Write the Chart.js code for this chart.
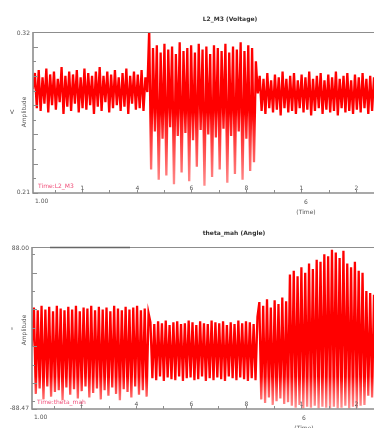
<!DOCTYPE html>
<html>
<head>
<meta charset="utf-8">
<script src="https://cdn.jsdelivr.net/npm/chart.js@4.4.1/dist/chart.umd.min.js"></script>
<style>
  html, body { margin: 0; padding: 0; background: #fff; }
  #wrap { position: relative; width: 374px; height: 428px; overflow: hidden; }
  .box { position: absolute; left: 0; width: 374px; }
  #box1 { top: 0; height: 222px; }
  #box2 { top: 222px; height: 206px; }
  canvas { filter: blur(0.45px); }
</style>
</head>
<body>
<div id="wrap">
  <div class="box" id="box1"><canvas id="voltChart"></canvas></div>
  <div class="box" id="box2"><canvas id="angleChart"></canvas></div>
</div>
<script>
// L2_M3 voltage in three stretches (before, during, after the burst)
const voltBefore = [0.281,0.292,0.268,0.294,0.266,0.289,0.271,0.295,0.265,0.291,
  0.270,0.293,0.267,0.288,0.272,0.296,0.264,0.290,0.269,0.293,
  0.266,0.291,0.271,0.294,0.265,0.289,0.268,0.295,0.267,0.292,
  0.270,0.290,0.264,0.293,0.269,0.296,0.266,0.290,0.272,0.293,
  0.265,0.291,0.268,0.294,0.270,0.289,0.266,0.292,0.269,0.295,
  0.264,0.290,0.271,0.293,0.267,0.291,0.268,0.294,0.266,0.289,0.279];
const voltBurst = [0.322,0.226,0.309,0.252,0.311,0.219,0.306,0.247,0.312,0.222,
  0.308,0.255,0.310,0.216,0.305,0.249,0.313,0.224,0.307,0.251,
  0.309,0.218,0.311,0.246,0.306,0.228,0.312,0.253,0.308,0.215,
  0.310,0.250,0.305,0.221,0.311,0.248,0.309,0.226,0.307,0.254,
  0.312,0.217,0.306,0.249,0.310,0.223,0.308,0.252,0.313,0.219,
  0.307,0.247,0.311,0.225,0.309,0.231,0.300];
const voltAfter = [0.278,0.290,0.266,0.288,0.264,0.292,0.268,0.287,0.265,0.291,
  0.267,0.289,0.263,0.293,0.268,0.288,0.265,0.290,0.266,0.292,
  0.264,0.287,0.268,0.291,0.265,0.289,0.267,0.293,0.263,0.288,
  0.266,0.290,0.268,0.292,0.264,0.287,0.267,0.291,0.265,0.289,
  0.266,0.293,0.263,0.288,0.268,0.290,0.265,0.292,0.266,0.287,
  0.264,0.291,0.267,0.289,0.265,0.292,0.268,0.288,0.264,0.290,
  0.266,0.289];

// theta_mah angle, same sample grid
const angleA = [-20,22,-72,19,-66,24,-78,20,-64,23,
  -75,18,-70,24,-68,21,-79,19,-65,23,
  -73,20,-67,24,-77,18,-69,22,-64,21,
  -76,24,-71,19,-66,23,-78,20,-68,22,
  -74,18,-65,24,-72,21,-79,19,-67,23,
  -70,20,-76,22,-64,24,-73,19,-68,21,
  -75,16];
const angleB = [6,-55,4,-57,7,-53,5,-58,8,-54,
  3,-56,6,-57,7,-53,4,-58,5,-55,
  8,-54,6,-57,3,-56,7,-53,5,-58,
  4,-55,8,-57,6,-54,5,-56,7,-58,
  3,-53,6,-55,4,-57,8,-54,5,-56,
  7,-58,6,-55,4,-57,12];
const angleC = [28,-78,24,-82,31,-76,22,-84,30,-80,26,-77,33,-83,29,-81];
const angleD = [58,-85,62,-87,56,-84,66,-88,60,-86,
  70,-87,64,-85,74,-88,72,-86,
  80,-87,78,-88,85,-86,82,-88,
  76,-87,84,-85,70,-88,66,-86,
  72,-87,62,-85,60,-84];
const angleE = [40,-74,38,-76,36];

// axis ticks (sample positions) and their labels
const xTickAt = [11.3,25.7,40.1,54.5,68.8,83.2,97.6,112,126.4,140.8,155.2,169.5];
const xTickLabels = ['','1','','4','','6','','8','','1','','2'];
const voltTicks = [0.21,0.22,0.23,0.24,0.25,0.26,0.27,0.28,0.29,0.30,0.31,0.32];
const angleTicks = [-88.47,-80,-60,-40,-20,0,20,40,60,80,88];

const voltage = voltBefore.concat(voltBurst, voltAfter);
const angle = angleA.concat(angleB, angleC, angleD, angleE);

// Plugin vẽ khung, vạch chia và chữ
const framePlugin = {
  id: 'frame',
  afterDraw(chart, args, o) {
    const { ctx, chartArea: a, scales: { x, y } } = chart;
    ctx.save();
    ctx.strokeStyle = '#8d8d8d';
    ctx.lineWidth = 1;
    ctx.beginPath();
    ctx.moveTo(a.left, a.top + 0.5);
    ctx.lineTo(a.right, a.top + 0.5);
    ctx.stroke();
    if (o.topMark) {
      ctx.strokeStyle = '#666';
      ctx.lineWidth = 1.5;
      ctx.beginPath();
      ctx.moveTo(o.topMark[0], a.top + 0.5);
      ctx.lineTo(o.topMark[1], a.top + 0.5);
      ctx.stroke();
      ctx.strokeStyle = '#8d8d8d';
    }
    ctx.lineWidth = 1.6;
    ctx.beginPath();
    ctx.moveTo(a.left, a.top);
    ctx.lineTo(a.left, a.bottom);
    ctx.lineTo(a.right, a.bottom);
    ctx.stroke();

    // y ticks
    ctx.lineWidth = 1;
    o.yTicks.forEach((v, i) => {
      const py = Math.round(y.getPixelForValue(v)) + 0.5;
      ctx.beginPath();
      ctx.moveTo(a.left, py);
      ctx.lineTo(a.left + (i % 2 ? 3 : 5), py);
      ctx.stroke();
    });
    // x ticks + labels inside
    ctx.font = '6px "DejaVu Sans"';
    ctx.fillStyle = '#555';
    ctx.textAlign = 'center';
    ctx.textBaseline = 'bottom';
    xTickAt.forEach((v, i) => {
      const px = Math.round(x.getPixelForValue(v)) + 0.5;
      ctx.beginPath();
      ctx.moveTo(px, a.bottom);
      ctx.lineTo(px, a.bottom - 3);
      ctx.stroke();
      if (xTickLabels[i]) ctx.fillText(xTickLabels[i], px, a.bottom - 2);
    });

    // y labels
    ctx.textAlign = 'right';
    ctx.textBaseline = 'middle';
    ctx.fillText(o.yMaxLabel, a.left - 3, a.top + 1);
    ctx.fillText(o.yMinLabel, a.left - 3, a.bottom - 1);
    ctx.textAlign = 'center';
    ctx.fillText(o.unit, 12, o.yTitleAt);
    ctx.save();
    ctx.translate(24, o.yTitleAt);
    ctx.rotate(-Math.PI / 2);
    ctx.fillText('Amplitude', 0, 0);
    ctx.restore();

    // bottom texts
    ctx.textAlign = 'left';
    ctx.textBaseline = 'top';
    ctx.fillText('1.00', a.left + 2, a.bottom + 5);
    ctx.textAlign = 'center';
    ctx.fillText('6', o.timeAt, a.bottom + 6);
    ctx.fillText('(Time)', o.timeAt, a.bottom + 16);

    // legend text
    ctx.fillStyle = '#f0507a';
    ctx.textAlign = 'left';
    ctx.textBaseline = 'bottom';
    ctx.fillText(o.legend, a.left + 5, a.bottom - 4);

    // title
    ctx.fillStyle = '#333';
    ctx.font = 'bold 6px "DejaVu Sans"';
    ctx.textAlign = 'center';
    ctx.textBaseline = 'middle';
    ctx.fillText(o.title, o.titleX, o.titleY);
    ctx.restore();
  }
};

// Màu đường: đỏ đậm phía trên, nhạt dần phía dưới
function redFade(stopDark) {
  return (context) => {
    const { ctx, chartArea } = context.chart;
    if (!chartArea) return '#ff0000';
    const g = ctx.createLinearGradient(0, chartArea.top, 0, chartArea.bottom);
    g.addColorStop(0, '#ff0000');
    g.addColorStop(stopDark, '#ff0000');
    g.addColorStop(1, 'rgba(255,95,95,0.65)');
    return g;
  };
}

function makeChart(canvasId, values, yMin, yMax, padding, frame, stopDark) {
  const ctx = document.getElementById(canvasId).getContext('2d');
  return new Chart(ctx, {
    type: 'line',
    data: {
      datasets: [{
        data: values.map((v, i) => ({ x: i, y: v })),
        borderColor: redFade(stopDark),
        borderWidth: 2.3,
        pointRadius: 0,
        tension: 0,
        fill: false
      }]
    },
    options: {
      responsive: true,
      maintainAspectRatio: false,
      animation: false,
      layout: { padding: padding },
      plugins: {
        legend: { display: false },
        tooltip: { enabled: false },
        frame: frame
      },
      scales: {
        x: { type: 'linear', display: false, min: 0, max: values.length - 1 },
        y: { display: false, min: yMin, max: yMax }
      }
    },
    plugins: [framePlugin]
  });
}

makeChart('voltChart', voltage, 0.21, 0.32,
  { left: 33, top: 32, right: 0, bottom: 29 },
  { title: 'L2_M3 (Voltage)', titleX: 230, titleY: 19, yMaxLabel: '0.32', yMinLabel: '0.21',
    unit: 'V', yTitleAt: 112, legend: 'Time:L2_M3', timeAt: 306, yTicks: voltTicks },
  0.5);

makeChart('angleChart', angle, -88.47, 88.0,
  { left: 32, top: 25, right: 0, bottom: 19 },
  { title: 'theta_mah (Angle)', titleX: 234, titleY: 11, yMaxLabel: '88.00', yMinLabel: '-88.47',
    unit: '°', yTitleAt: 108, legend: 'Time:theta_mah', timeAt: 304, yTicks: angleTicks,
    topMark: [50, 130] },
  0.8);
</script>
</body>
</html>
